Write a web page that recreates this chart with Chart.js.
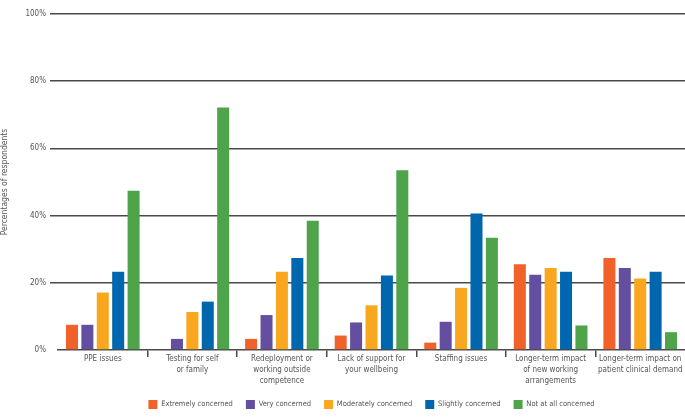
<!DOCTYPE html>
<html>
<head>
<meta charset="utf-8">
<script src="https://cdn.jsdelivr.net/npm/chart.js@4/dist/chart.umd.min.js"></script>
<style>
  html, body { margin: 0; padding: 0; background: #fff; }
  #wrap { width: 685px; height: 419px; position: relative; }
</style>
</head>
<body>
<div id="wrap"><canvas id="concernChart"></canvas></div>
<script>
// Categories (x axis, multi-line labels)
const categories = [
    'PPE issues',
    ['Testing for self', 'or family'],
    ['Redeployment or', 'working outside', 'competence'],
    ['Lack of support for', 'your wellbeing'],
    'Staffing issues',
    ['Longer-term impact', 'of new working', 'arrangements'],
    ['Longer-term impact on', 'patient clinical demand']
];

// Series values (% of respondents)
const extremelyConcerned = [7.5, 0, 3.3, 4.3, 2.2, 25.5, 27.4];
const veryConcerned = [7.5, 3.3, 10.4, 8.2, 8.4, 22.4, 24.4];
const moderatelyConcerned = [17.1, 11.3, 23.3, 13.3, 18.5, 24.4, 21.3];
const slightlyConcerned = [23.3, 14.4, 27.4, 22.2, 40.6, 23.3, 23.3];
const notAtAllConcerned = [47.4, 72.2, 38.5, 53.5, 33.4, 7.3, 5.3];

const seriesNames = ['Extremely concerned', 'Very concerned', 'Moderately concerned', 'Slightly concerned', 'Not at all concerned'];
const seriesColors = ['#f0622a', '#634ea0', '#f9a71e', '#0066ad', '#4fa44b'];

const yTicks = [0, 20, 40, 60, 80, 100];

const fontFamily = '"Liberation Sans Narrow", "DejaVu Sans Condensed", "Open Sans", sans-serif';
const textColor = '#555';
const lineColor = '#4a4a4a';
const noColor = 'rgba(0,0,0,0)';

const allSeries = [extremelyConcerned, veryConcerned, moderatelyConcerned, slightlyConcerned, notAtAllConcerned];

const datasets = allSeries.map((values, i) => ({
    label: seriesNames[i],
    data: values,
    backgroundColor: seriesColors[i],
    borderWidth: 0,
    categoryPercentage: 0.86,
    barPercentage: 0.78
}));

const ctx = document.getElementById('concernChart').getContext('2d');
new Chart(ctx, {
    type: 'bar',
    data: { labels: categories, datasets: datasets },
    options: {
        responsive: true,
        maintainAspectRatio: false,
        animation: false,
        layout: { padding: { top: 14, right: 0, bottom: 0, left: 0 } },
        plugins: {
            tooltip: { enabled: false },
            legend: {
                position: 'bottom',
                fullSize: false,
                labels: {
                    boxWidth: 9,
                    boxHeight: 9,
                    padding: 13,
                    color: textColor,
                    font: { family: fontFamily, size: 7.5 }
                }
            }
        },
        scales: {
            x: {
                afterFit: (scale) => { scale.height = 37; },
                grid: {
                    offset: true,
                    drawOnChartArea: false,
                    drawTicks: true,
                    tickLength: 7,
                    lineWidth: 1.5,
                    // only the dividers between categories (no tick at either end)
                    color: (c) => (c.type === 'tick' && c.index > 0 ? lineColor : noColor)
                },
                border: { display: true, color: lineColor, width: 1.5 },
                ticks: {
                    color: textColor,
                    padding: -4,
                    maxRotation: 0,
                    autoSkip: false,
                    font: { family: fontFamily, size: 8, lineHeight: 1.375 }
                }
            },
            y: {
                min: 0,
                max: 100,
                afterFit: (scale) => { scale.width = 58; },
                afterBuildTicks: (scale) => { scale.ticks = yTicks.map(v => ({ value: v })); },
                grid: {
                    color: (c) => (c.tick && c.tick.value === 0 ? noColor : lineColor),
                    lineWidth: 1.5,
                    tickLength: 8
                },
                border: { display: false },
                ticks: {
                    color: textColor,
                    padding: 4,
                    font: { family: fontFamily, size: 8 },
                    callback: (v) => v + '%'
                },
                title: {
                    display: true,
                    text: 'Percentages of respondents',
                    color: textColor,
                    padding: 0,
                    font: { family: fontFamily, size: 8.5 }
                }
            }
        }
    }
});
</script>
</body>
</html>
